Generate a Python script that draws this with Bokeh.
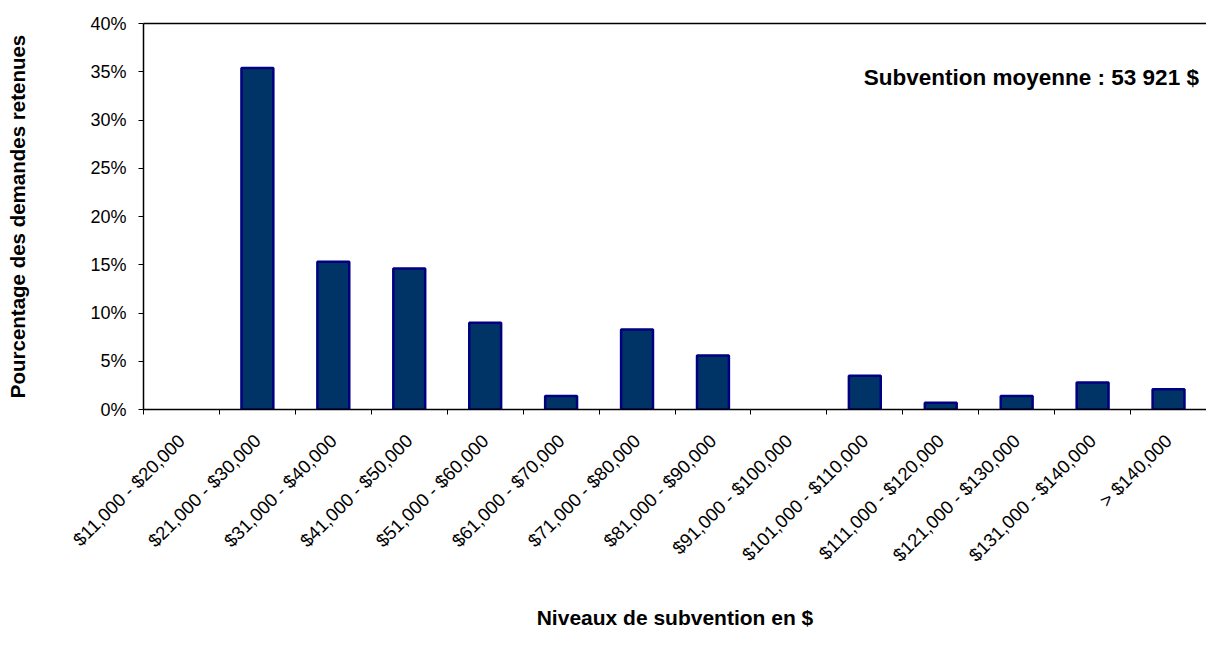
from math import pi
from bokeh.plotting import figure
from bokeh.models import Range1d, FixedTicker, PrintfTickFormatter, Label, LinearAxis, ColumnDataSource
from bokeh.embed import file_html
from bokeh.resources import INLINE

categories = ["$11,000 - $20,000", "$21,000 - $30,000", "$31,000 - $40,000", "$41,000 - $50,000",
              "$51,000 - $60,000", "$61,000 - $70,000", "$71,000 - $80,000", "$81,000 - $90,000",
              "$91,000 - $100,000", "$101,000 - $110,000", "$111,000 - $120,000", "$121,000 - $130,000",
              "$131,000 - $140,000", "> $140,000"]
percent = [0.0, 35.4, 15.3, 14.6, 9.0, 1.4, 8.3, 5.6, 0.0, 3.5, 0.7, 1.4, 2.8, 2.1]
y_ticks = [0, 5, 10, 15, 20, 25, 30, 35, 40]

FONT = "Liberation Sans"

centers = [i + 0.5 for i in range(len(categories))]
# empty classes draw nothing
keep = [i for i, v in enumerate(percent) if v > 0]
source = ColumnDataSource(dict(x=[centers[i] for i in keep], top=[percent[i] for i in keep]))

p = figure(width=1206, height=632, output_backend="svg", toolbar_location=None,
           x_range=Range1d(0, len(categories)), y_range=Range1d(0, 40),
           min_border_left=143, min_border_right=0, min_border_top=23, min_border_bottom=20)
p.outline_line_color = None
p.xgrid.grid_line_color = None
p.ygrid.grid_line_color = None

p.vbar(x="x", top="top", bottom=0, width=0.42, source=source,
       fill_color="#003366", line_color="#000080", line_width=2.5)

# x axis: labels at category centres, tick marks at category boundaries (minor ticks)
xa = p.xaxis[0]
xa.ticker = FixedTicker(ticks=centers, minor_ticks=list(range(len(categories) + 1)))
xa.major_label_overrides = {c: lab for c, lab in zip(centers, categories)}
xa.major_tick_line_color = None
xa.minor_tick_line_color = "black"
xa.minor_tick_in = 0
xa.minor_tick_out = 5
xa.axis_line_color = "black"
xa.axis_line_width = 1.5
xa.major_label_orientation = pi / 4
xa.major_label_text_font = FONT
xa.major_label_text_font_size = "18.5px"
xa.major_label_text_color = "black"
xa.major_label_standoff = 22
xa.axis_label = "Niveaux de subvention en $"
xa.axis_label_text_font = FONT
xa.axis_label_text_font_style = "bold"
xa.axis_label_text_font_size = "21px"
xa.axis_label_text_color = "black"
xa.axis_label_standoff = 30

ya = p.yaxis[0]
ya.ticker = FixedTicker(ticks=y_ticks, minor_ticks=[])
ya.formatter = PrintfTickFormatter(format="%d%%")
ya.major_tick_in = 0
ya.major_tick_out = 5
ya.major_tick_line_color = "black"
ya.axis_line_color = "black"
ya.axis_line_width = 1.5
ya.major_label_text_font = FONT
ya.major_label_text_font_size = "18px"
ya.major_label_text_color = "black"
ya.major_label_standoff = 12
ya.axis_label = "Pourcentage des demandes retenues"
ya.axis_label_text_font = FONT
ya.axis_label_text_font_style = "bold"
ya.axis_label_text_font_size = "20.5px"
ya.axis_label_text_color = "black"
ya.axis_label_standoff = 58

# top border line of the plot area
top = LinearAxis(ticker=FixedTicker(ticks=[]), major_label_text_font_size="0px",
                 axis_line_color="black", axis_line_width=1.5,
                 major_tick_line_color=None, minor_tick_line_color=None)
p.add_layout(top, "above")

p.add_layout(Label(x=13.9, y=34.4, text="Subvention moyenne : 53 921 $",
                   text_font=FONT, text_font_style="bold", text_font_size="22.5px",
                   text_align="right", text_baseline="middle", text_color="black"))

open("out.html", "w").write(file_html(p, INLINE))
